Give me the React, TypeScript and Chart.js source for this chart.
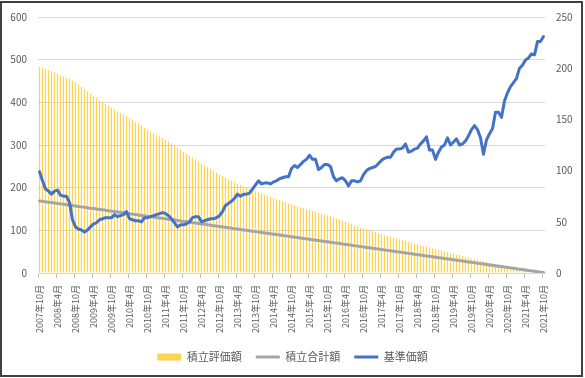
import React, { useEffect, useRef } from "react";
import { Chart, registerables } from "chart.js";

Chart.register(...registerables);

// Monthly categories 2007年10月 … 2021年10月
const categories: string[] = (() => {
  const out: string[] = [];
  let y = 2007;
  let m = 10;
  for (let k = 0; k < 169; k++) {
    out.push(`${y}年${m}月`);
    m++;
    if (m > 12) { m = 1; y++; }
  }
  return out;
})();

const seriesNames = ["積立評価額", "積立合計額", "基準価額"];

// 積立評価額 (left axis)
const valuation = [
  483, 481, 478, 475, 473, 470, 467, 464, 461, 458,
  455, 451, 447, 442, 436, 431, 425, 420, 414, 410,
  405, 400, 396, 392, 388, 383, 379, 375, 371, 367,
  363, 359, 354, 350, 345, 340, 336, 332, 328, 324,
  320, 316, 312, 308, 304, 299, 294, 289, 284, 279,
  275, 270, 266, 262, 257, 253, 248, 244, 239, 235,
  231, 227, 223, 219, 216, 213, 209, 206, 203, 200,
  197, 194, 192, 189, 186, 184, 181, 178, 176, 173,
  171, 168, 166, 163, 161, 158, 156, 154, 152, 150,
  148, 146, 144, 141, 139, 137, 135, 133, 130, 128,
  125, 123, 120, 118, 115, 112, 110, 107, 105, 102,
  100, 98, 96, 93, 91, 89, 87, 85, 83, 81,
  79, 77, 75, 73, 71, 69, 68, 66, 64, 62,
  60, 58, 56, 54, 52, 51, 49, 47, 45, 43,
  42, 40, 38, 36, 34, 33, 31, 29, 28, 26,
  24, 22, 21, 19, 18, 16, 15, 13, 12, 11,
  10, 9, 7, 6, 5, 4, 3, 2, 1,
];

// 積立合計額 (left axis)
const invested = [
  169, 168, 167, 166, 165, 164, 163, 162, 161, 160,
  159, 158, 157, 156, 155, 154, 153, 152, 151, 150,
  149, 148, 147, 146, 145, 144, 143, 142, 141, 140,
  139, 138, 137, 136, 135, 134, 133, 132, 131, 130,
  129, 128, 127, 126, 125, 124, 123, 122, 121, 120,
  119, 118, 117, 116, 115, 114, 113, 112, 111, 110,
  109, 108, 107, 106, 105, 104, 103, 102, 101, 100,
  99, 98, 97, 96, 95, 94, 93, 92, 91, 90,
  89, 88, 87, 86, 85, 84, 83, 82, 81, 80,
  79, 78, 77, 76, 75, 74, 73, 72, 71, 70,
  69, 68, 67, 66, 65, 64, 63, 62, 61, 60,
  59, 58, 57, 56, 55, 54, 53, 52, 51, 50,
  49, 48, 47, 46, 45, 44, 43, 42, 41, 40,
  39, 38, 37, 36, 35, 34, 33, 32, 31, 30,
  29, 28, 27, 26, 25, 24, 23, 22, 21, 20,
  19, 18, 17, 16, 15, 14, 13, 12, 11, 10,
  9, 8, 7, 6, 5, 4, 3, 2, 1,
];

// 基準価額 (right axis)
const nav = [
  99, 90, 82, 80, 77, 80, 81, 76, 75, 75,
  69, 52, 45, 43, 42, 40, 42, 45, 48, 49,
  52, 53, 54, 54, 54, 57, 55, 56, 57, 60,
  53, 52, 51, 51, 50, 54, 54, 55, 56, 57,
  58, 59, 58, 56, 53, 49, 45, 47, 47, 48,
  50, 54, 55, 55, 50, 51, 52, 53, 53, 54,
  56, 60, 66, 68, 70, 73, 77, 75, 77, 77,
  78, 82, 86, 90, 87, 88, 88, 87, 89, 90,
  92, 93, 94, 94, 102, 105, 103, 106, 109, 111,
  115, 111, 111, 101, 103, 106, 106, 104, 94, 90,
  92, 93, 90, 85, 90, 90, 89, 90, 96, 100,
  102, 103, 104, 107, 110, 112, 113, 113, 118, 121,
  121, 122, 126, 118, 119, 121, 122, 126, 129, 133,
  120, 120, 111, 118, 123, 125, 132, 125, 128, 131,
  125, 126, 129, 134, 140, 144, 140, 132, 116, 130,
  136, 141, 157, 157, 152, 168, 176, 182, 186, 190,
  200, 203, 208, 210, 214, 213, 226, 226, 231,
];

const leftTicks = { min: 0, max: 600, step: 100 };
const rightTicks = { min: 0, max: 250, step: 50 };

const FONT = '"Noto Sans CJK JP", "Noto Sans", sans-serif';
const TEXT = "#595959";

export default function App() {
  const canvasRef = useRef<HTMLCanvasElement | null>(null);

  useEffect(() => {
    if (!canvasRef.current) return;
    const chart = new Chart(canvasRef.current, {
      type: "bar",
      data: {
        labels: categories,
        datasets: [
          {
            type: "bar",
            label: seriesNames[0],
            data: valuation,
            backgroundColor: "rgba(255,192,0,0.7)",
            borderWidth: 0,
            barPercentage: 0.4,
            categoryPercentage: 1,
            yAxisID: "y",
            order: 3,
            pointStyle: "rect",
          } as any,
          {
            type: "line",
            label: seriesNames[1],
            data: invested,
            borderColor: "#A5A5A5",
            backgroundColor: "#A5A5A5",
            borderWidth: 3,
            pointRadius: 0,
            tension: 0,
            yAxisID: "y",
            order: 2,
            pointStyle: "line",
            borderCapStyle: "round",
            borderJoinStyle: "round",
          } as any,
          {
            type: "line",
            label: seriesNames[2],
            data: nav,
            borderColor: "#4472C4",
            backgroundColor: "#4472C4",
            borderWidth: 3,
            pointRadius: 0,
            tension: 0,
            yAxisID: "y1",
            order: 1,
            pointStyle: "line",
            borderCapStyle: "round",
            borderJoinStyle: "round",
          } as any,
        ],
      },
      options: {
        animation: false,
        responsive: false,
        maintainAspectRatio: false,
        devicePixelRatio: 1,
        layout: { padding: { left: 0, right: 0, top: 16, bottom: 5.5 } },
        plugins: {
          tooltip: { enabled: false },
          legend: {
            display: true,
            position: "bottom",
            labels: {
              usePointStyle: true,
              pointStyleWidth: 24,
              boxHeight: 7,
              padding: 14,
              color: TEXT,
              font: { family: FONT, size: 11 },
              sort: (a: any, b: any) => a.datasetIndex - b.datasetIndex,
            },
          },
        },
        scales: {
          x: {
            type: "category",
            offset: true,
            grid: {
              display: true,
              offset: true,
              drawOnChartArea: false,
              drawTicks: true,
              tickLength: 5,
              tickColor: (ctx: any) => (ctx.index % 6 === 0 ? "#BFBFBF" : "rgba(0,0,0,0)"),
            },
            border: { display: true, color: "#D9D9D9" },
            ticks: {
              autoSkip: false,
              minRotation: 90,
              maxRotation: 90,
              padding: 7,
              color: TEXT,
              font: { family: FONT, size: 9 },
              callback: (_v: any, i: number) => (i % 6 === 0 ? categories[i] : ""),
            },
            afterFit: (s: any) => { s.height = 64.5; },
          },
          y: {
            position: "left",
            min: leftTicks.min,
            max: leftTicks.max,
            grid: { color: "#D9D9D9", drawTicks: false, lineWidth: 1 },
            border: { display: false },
            ticks: {
              stepSize: leftTicks.step,
              padding: 11,
              color: TEXT,
              font: { family: FONT, size: 10 },
            },
            afterFit: (s: any) => { s.width = 38; },
          },
          y1: {
            position: "right",
            min: rightTicks.min,
            max: rightTicks.max,
            grid: { drawOnChartArea: false, drawTicks: false },
            border: { display: false },
            ticks: {
              stepSize: rightTicks.step,
              padding: 11,
              color: TEXT,
              font: { family: FONT, size: 10 },
            },
            afterFit: (s: any) => { s.width = 40; },
          },
        },
      } as any,
    });
    return () => chart.destroy();
  }, []);

  return (
    <div style={{ position: "fixed", left: 0, top: 0, width: 585, height: 378, background: "#fff" }}>
      <canvas ref={canvasRef} width={585} height={378} style={{ position: "absolute", left: 0, top: 0, width: 585, height: 378 }} />
      <div
        style={{
          position: "absolute",
          left: 0,
          top: 1,
          width: 583,
          height: 376,
          border: "2px solid #404040",
          boxSizing: "border-box",
          pointerEvents: "none",
        }}
      />
    </div>
  );
}
